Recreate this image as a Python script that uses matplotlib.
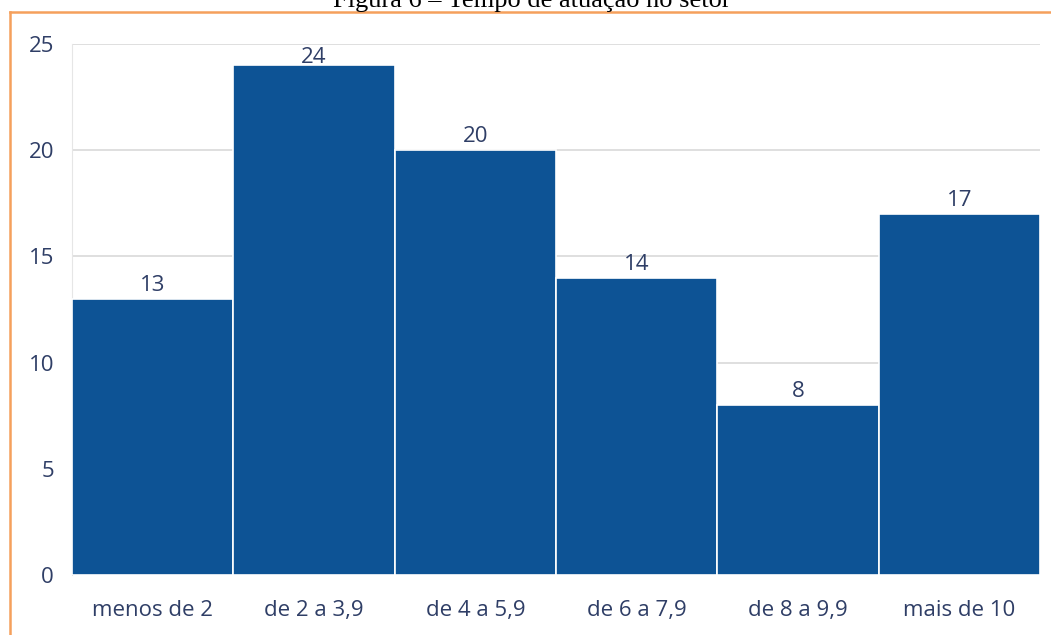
import matplotlib
matplotlib.use("Agg")
import matplotlib.pyplot as plt
from matplotlib.lines import Line2D

categories = ["menos de 2", "de 2 a 3,9", "de 4 a 5,9", "de 6 a 7,9", "de 8 a 9,9", "mais de 10"]
values = [13, 24, 20, 14, 8, 17]
y_ticks = [0, 5, 10, 15, 20, 25]
title = "Figura 6 – Tempo de atuação no setor"

bar_color = "#0d5395"
text_color = "#2f3e66"
W, H = 1051, 635
y_max = 25

fig = plt.figure(figsize=(W / 100, H / 100), dpi=100)
fig.patch.set_facecolor("white")

ax = fig.add_axes([72 / W, 1 - 575 / H, (1040 - 72) / W, (575 - 44) / H])
x = range(len(categories))
bars = ax.bar(x, values, width=1.0, color=bar_color, edgecolor="white", linewidth=1.2, zorder=3)

ax.set_xlim(-0.5, len(categories) - 0.5)
ax.set_ylim(0, y_max)
ax.set_yticks(y_ticks)
ax.set_xticks(list(x))
ax.set_xticklabels(categories)
ax.yaxis.grid(True, color="#d9d9d9", linewidth=1.2, zorder=0)
ax.set_axisbelow(True)
for side in ["top", "right", "bottom"]:
    ax.spines[side].set_visible(False)
ax.spines["left"].set_color("#e6e6e6")
ax.tick_params(axis="both", length=0, labelsize=16, labelcolor=text_color)
ax.tick_params(axis="y", pad=13)
ax.tick_params(axis="x", pad=18)
for lbl in ax.get_xticklabels() + ax.get_yticklabels():
    lbl.set_fontfamily("Open Sans")

# Value labels above each bar, kept inside the plotting area near the top
for b, v in zip(bars, values):
    cx = b.get_x() + b.get_width() / 2
    if v > y_max - 1.5:
        ax.annotate(str(v), (cx, y_max), xytext=(0, -2), textcoords="offset points",
                    ha="center", va="top", fontsize=16, color=text_color,
                    family="Open Sans", zorder=4)
    else:
        ax.annotate(str(v), (cx, v), xytext=(0, 2), textcoords="offset points",
                    ha="center", va="bottom", fontsize=16, color=text_color,
                    family="Open Sans", zorder=4)

# Caption line above the frame, cut by the top edge
fig.text(532 / W, 1 - 7 / H, title, ha="center", va="baseline",
         fontsize=19, family="Liberation Serif", color="black")

# Orange frame around the chart
frame_color = "#f5a05c"
fig.add_artist(Line2D([10 / W, 1.0], [1 - 12 / H, 1 - 12 / H], transform=fig.transFigure,
                      color=frame_color, linewidth=1.8))
fig.add_artist(Line2D([10 / W, 10 / W], [0, 1 - 12 / H], transform=fig.transFigure,
                      color=frame_color, linewidth=1.8))

fig.savefig("out.png", dpi=100)
